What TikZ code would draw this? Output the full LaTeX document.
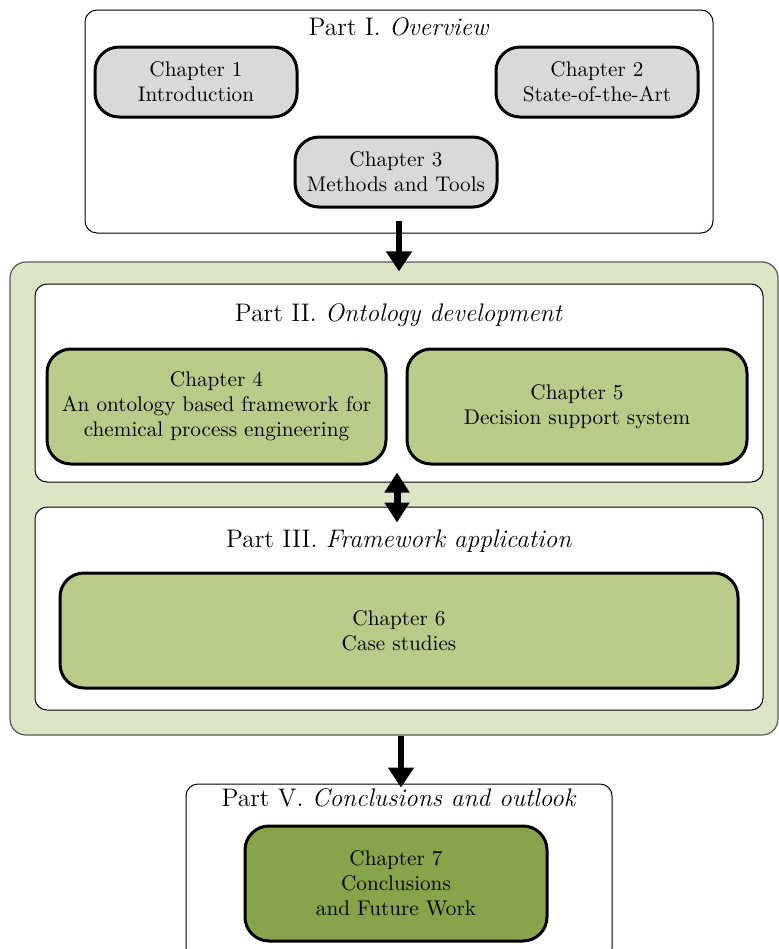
\documentclass[tikz,border=0pt]{standalone}
\usetikzlibrary{arrows.meta,positioning}
\definecolor{chapgray}{HTML}{D9D9D9}
\definecolor{chapgreen}{HTML}{B8CB89}
\definecolor{chapdark}{HTML}{86A54A}
\definecolor{partgreen}{HTML}{DCE6C6}
\begin{document}
\begin{tikzpicture}[x=0.5pt,y=-0.5pt,
	partbox/.style={draw,rounded corners=6pt,line width=0.5pt,fill=white,inner sep=0pt},
	parttitle/.style={font=\fontsize{12.7pt}{15pt}\selectfont},
	chapbox/.style={draw,rounded corners=12pt,line width=1.5pt,align=center,inner sep=0pt,minimum height=57.5pt,font=\fontsize{10.6pt}{12.6pt}\selectfont},
	bigarrow/.style={line width=3pt,-{Triangle[width=12.5pt,length=10pt]}},
	dblarrow/.style={line width=3.5pt,{Triangle[width=12pt,length=10pt]}-{Triangle[width=12pt,length=10pt]}}]
				\useasboundingbox (0,0) rectangle (779,949);
				% Part I
				\node[partbox,minimum width=314pt,minimum height=111.5pt] (partI) at (399,121.5) {};
				\node[parttitle] (titleI) at (399,27) {Part I. \textit{Overview}};
				\node[chapbox,fill=chapgray,minimum width=101pt,minimum height=35pt] (ch1) at (196,82) {Chapter 1\\Introduction};
				\node[chapbox,fill=chapgray,minimum width=101pt,minimum height=35pt] (ch2) at (597,82) {Chapter 2\\State-of-the-Art};
				\node[chapbox,fill=chapgray,minimum width=101pt,minimum height=35pt] (ch3) at (396,172) {Chapter 3\\Methods and Tools};
				% green frame round Parts II and III
				\node[draw=black!65,line width=0.6pt,fill=partgreen,rounded corners=8pt,minimum width=384pt,minimum height=236.5pt,inner sep=0pt] (outer) at (394,498.5) {};
				% Part II
				\node[partbox,minimum width=364pt,minimum height=99pt] (partII) at (399,383) {};
				\node[parttitle] (titleII) at (399,315) {Part II. \textit{Ontology development}};
				\node[chapbox,fill=chapgreen,minimum width=169.5pt] (ch4) at (216.5,406.5) {Chapter 4\\An ontology based framework for\\chemical process engineering};
				\node[chapbox,fill=chapgreen,minimum width=170pt] (ch5) at (577,406.5) {Chapter 5\\Decision support system};
				% Part III
				\node[partbox,minimum width=364pt,minimum height=101.5pt] (partIII) at (399,608.5) {};
				\node[parttitle] (titleIII) at (399,541) {Part III. \textit{Framework application}};
				\node[chapbox,fill=chapgreen,minimum width=339pt] (ch6) at (399,630.5) {Chapter 6\\Case studies};
				% Part V
				\node[partbox,minimum width=213pt,minimum height=88pt] (partV) at (399,872) {};
				\node[parttitle] (titleV) at (399,798) {Part V. \textit{Conclusions and outlook}};
				\node[chapbox,fill=chapdark,minimum width=151pt] (ch7) at (396,883.5) {Chapter 7\\Conclusions\\and Future Work};
				% arrows
				\draw[bigarrow] ([yshift=6.5pt]partI.south) -- ([yshift=-5pt]partI.south |- outer.north);
				\draw[dblarrow] ([xshift=-1pt,yshift=5pt]partII.south) -- ([xshift=-1pt,yshift=-8pt]partIII.north);
				\draw[bigarrow] ([xshift=1pt]partV.north |- outer.south) -- ([xshift=1pt,yshift=-2pt]partV.north);
\end{tikzpicture}
\end{document}
